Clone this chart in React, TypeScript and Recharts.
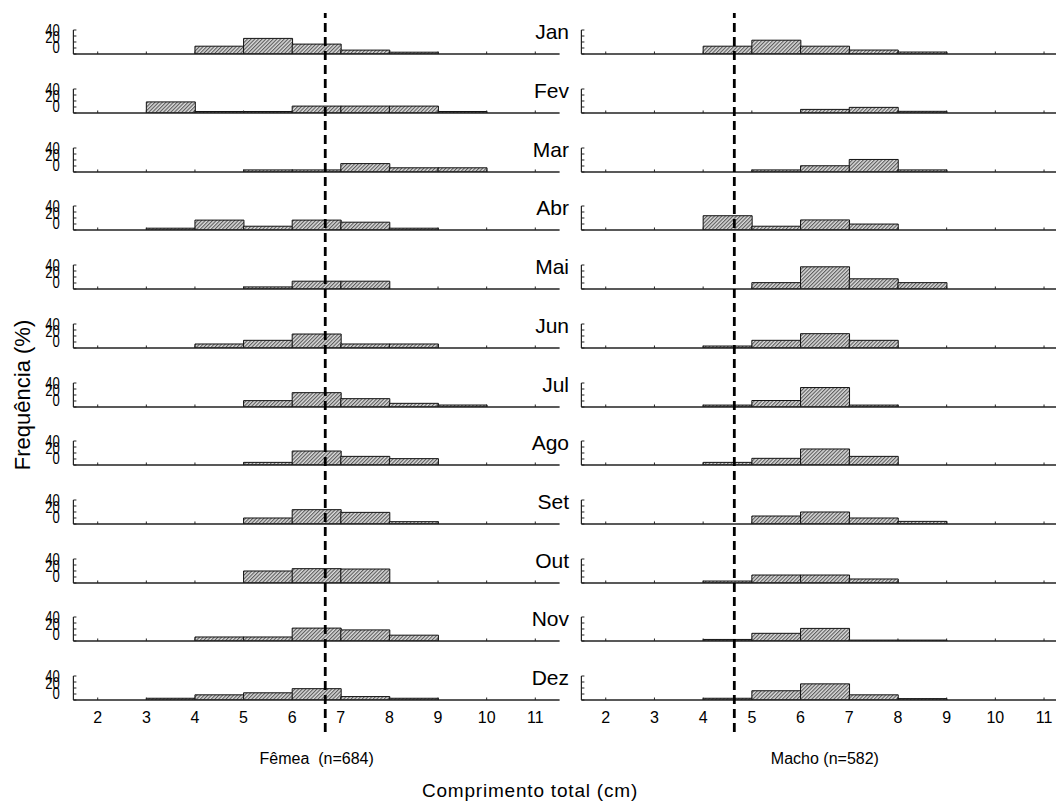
import React from 'react';
import { BarChart, Bar, XAxis, YAxis, ReferenceLine } from 'recharts';

const months = ['Jan', 'Fev', 'Mar', 'Abr', 'Mai', 'Jun', 'Jul', 'Ago', 'Set', 'Out', 'Nov', 'Dez'];
// centre of each length class: 2-3, 3-4, ..., 10-11 cm
const classMids = [2.5, 3.5, 4.5, 5.5, 6.5, 7.5, 8.5, 9.5, 10.5];
const xTicks = [2, 3, 4, 5, 6, 7, 8, 9, 10, 11];
const yTicks = [0, 10, 20, 30, 40];

// Frequência (%) per length class, one row per month
const femea = [
  [0, 0, 13, 26, 16.5, 6.5, 3, 0, 0],
  [0, 18.5, 2.5, 2.5, 11.5, 11.5, 11.5, 2.5, 0],
  [0, 0, 0, 3.5, 3.5, 14, 7, 7, 0],
  [0, 3, 16.5, 6.3, 16.5, 13, 3, 0, 0],
  [0, 0, 0, 3.5, 13, 13, 0, 0, 0],
  [0, 0, 6.7, 12.8, 23.3, 6.7, 6.7, 0, 0],
  [0, 0, 0, 10.6, 23.9, 13.9, 6.1, 3.3, 0],
  [0, 0, 0, 4.4, 23.3, 14.4, 10.6, 0, 0],
  [0, 0, 0, 10, 23.9, 19.4, 3.9, 0, 0],
  [0, 0, 0, 20, 23.9, 23.3, 0, 0, 0],
  [0, 0, 6.7, 6.7, 21.5, 18.5, 9.7, 0, 0],
  [0, 2.9, 8.6, 12, 18.9, 5.7, 2.9, 0, 0],
];

const macho = [
  [0, 0, 13, 23, 13, 6.6, 3.3, 0, 0],
  [0, 0, 0, 0, 6, 9.4, 2.8, 0, 0],
  [0, 0, 0, 3.5, 10.4, 20.9, 3.5, 0, 0],
  [0, 0, 23.8, 6.3, 16.8, 9.9, 0, 0, 0],
  [0, 0, 0, 10.6, 37, 17, 10.6, 0, 0],
  [0, 0, 3.3, 12.8, 23.9, 12.8, 0, 0, 0],
  [0, 0, 3.2, 10.8, 32.4, 3.2, 0, 0, 0],
  [0, 0, 4.4, 11.1, 26.7, 14.4, 0, 0, 0],
  [0, 0, 0, 13.3, 20, 10, 4.4, 0, 0],
  [0, 0, 3.3, 13.3, 13.3, 6.7, 0, 0, 0],
  [0, 0, 2.6, 12.8, 21, 1.5, 1.5, 0, 0],
  [0, 0, 2.9, 15.4, 26.9, 8.6, 2.3, 0, 0],
];

const femeaRef = 6.68;
const machoRef = 4.64;

const FONT = '"Liberation Sans", Arial, Helvetica, sans-serif';
const FIRST_BASE = 54.3;
const STEP = 58.7;
const PLOT_H = 24;
const PAD_TOP = 9;
const LINE_TOP = 13;
const LINE_BOTTOM = 732;

const sides = {
  left: { left: 0, width: 559.6, axisW: 73.4, labels: true },
  right: { left: 560, width: 508.4, axisW: 21.4, labels: false },
};

const yLabelShift: Record<number, number> = { 40: 5.8, 20: 1, 0: -1.2 };

const XTick = (props: any) => {
  const { x, y, payload, showLabel } = props;
  return (
    <g>
      <line x1={x} x2={x} y1={y} y2={y - 2.5} stroke="#222" strokeWidth={1} />
      {showLabel && (
        <text x={x} y={y + 23} textAnchor="middle" fontSize={16} fill="#000" fontFamily={FONT}>
          {payload.value}
        </text>
      )}
    </g>
  );
};

const YTick = (props: any) => {
  const { x, y, payload, showLabel } = props;
  const v = payload.value;
  return (
    <g>
      <line x1={x} x2={x + 3} y1={y} y2={y} stroke="#222" strokeWidth={1} />
      {showLabel && v in yLabelShift && (
        <text
          transform={`translate(${x - 13.5},${y + yLabelShift[v]}) scale(0.82,1)`}
          textAnchor="end"
          fontSize={16}
          fill="#000"
          fontFamily={FONT}
        >
          {v}
        </text>
      )}
    </g>
  );
};

const Panel = ({ values, side, index }: { values: number[]; side: 'left' | 'right'; index: number }) => {
  const cfg = sides[side];
  const last = index === months.length - 1;
  const axisH = last ? 34 : 6;
  const base = FIRST_BASE + index * STEP;
  const data = classMids.map((x, i) => ({ x, v: values[i] }));

  return (
    <div style={{ position: 'absolute', left: cfg.left, top: base - PLOT_H - PAD_TOP }}>
      <BarChart
        width={cfg.width}
        height={PAD_TOP + PLOT_H + axisH}
        data={data}
        margin={{ top: PAD_TOP, right: 0, bottom: 0, left: 0 }}
        barCategoryGap={0}
        barGap={0}
      >
        <XAxis
          type="number"
          dataKey="x"
          domain={[1.5, 11.5]}
          ticks={xTicks}
          interval={0}
          allowDataOverflow
          height={axisH}
          tickLine={false}
          tickSize={0}
          tickMargin={0}
          axisLine={{ stroke: '#222', strokeWidth: 1.3 }}
          tick={(p: any) => <XTick {...p} showLabel={last} />}
        />
        <YAxis
          type="number"
          domain={[0, 40]}
          ticks={yTicks}
          interval={0}
          allowDataOverflow
          width={cfg.axisW}
          tickLine={false}
          tickSize={0}
          tickMargin={0}
          axisLine={{ stroke: '#222', strokeWidth: 1.2 }}
          tick={(p: any) => <YTick {...p} showLabel={cfg.labels} />}
        />
        <Bar dataKey="v" fill="url(#hatch)" stroke="#111" strokeWidth={1} isAnimationActive={false} />
      </BarChart>
    </div>
  );
};

const MeanLine = ({ side, value }: { side: 'left' | 'right'; value: number }) => {
  const cfg = sides[side];
  const data = classMids.map((x) => ({ x }));
  return (
    <div style={{ position: 'absolute', left: cfg.left, top: LINE_TOP, pointerEvents: 'none' }}>
      <BarChart
        width={cfg.width}
        height={LINE_BOTTOM - LINE_TOP}
        data={data}
        margin={{ top: 0, right: 0, bottom: 0, left: cfg.axisW }}
      >
        <XAxis type="number" dataKey="x" domain={[1.5, 11.5]} allowDataOverflow hide />
        <YAxis type="number" domain={[0, 1]} allowDataOverflow hide />
        <ReferenceLine x={value} stroke="#000" strokeWidth={2.8} strokeDasharray="9 5" />
      </BarChart>
    </div>
  );
};

export default function App() {
  return (
    <div
      style={{
        position: 'absolute',
        left: 0,
        top: 0,
        width: 1056,
        height: 805,
        background: '#fff',
        overflow: 'hidden',
        fontFamily: FONT,
      }}
    >
      <svg width={1056} height={805} style={{ position: 'absolute', left: 0, top: 0 }}>
        <defs>
          <pattern id="hatch" patternUnits="userSpaceOnUse" width={2.6} height={2.6} patternTransform="rotate(45)">
            <rect width={2.6} height={2.6} fill="#dcdcdc" />
            <line x1={0.6} y1={0} x2={0.6} y2={2.6} stroke="#4a4a4a" strokeWidth={1} />
          </pattern>
        </defs>
        {months.map((m, i) => (
          <text key={m} x={569} y={FIRST_BASE + i * STEP - 15} textAnchor="end" fontSize={21} fill="#000" fontFamily={FONT}>
            {m}
          </text>
        ))}
        <text transform="translate(30,395) rotate(-90)" textAnchor="middle" fontSize={22} fill="#000" fontFamily={FONT}>
          Frequência (%)
        </text>
        <text x={316.7} y={764} textAnchor="middle" fontSize={16} fill="#000" fontFamily={FONT}>
          {'Fêmea\u00a0\u00a0(n=684)'}
        </text>
        <text x={824.9} y={764} textAnchor="middle" fontSize={16} fill="#000" fontFamily={FONT}>
          Macho (n=582)
        </text>
        <text x={530} y={797} textAnchor="middle" fontSize={19} letterSpacing={0.8} fill="#000" fontFamily={FONT}>
          Comprimento total (cm)
        </text>
      </svg>

      {femea.map((row, i) => (
        <Panel key={`f-${months[i]}`} values={row} side="left" index={i} />
      ))}
      {macho.map((row, i) => (
        <Panel key={`m-${months[i]}`} values={row} side="right" index={i} />
      ))}

      <MeanLine side="left" value={femeaRef} />
      <MeanLine side="right" value={machoRef} />
    </div>
  );
}
